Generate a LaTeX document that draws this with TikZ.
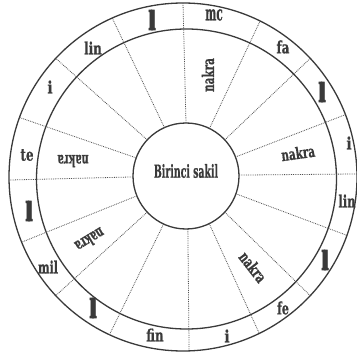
\documentclass[tikz,border=0pt]{standalone}
\usepackage{fontspec}
\setmainfont{Liberation Serif}
\newfontfamily\heavy{DejaVu Serif}[BoldFeatures={FakeBold=0.8}]
\newfontfamily\blockf{DejaVu Serif}[BoldFeatures={FakeBold=3.5}]
\usepackage{graphicx}
\definecolor{ink}{HTML}{3A3A3A}
\definecolor{dots}{HTML}{505050}
\newcommand\sqz[2]{\scalebox{#1}[1]{#2}}
\newcommand\blk{\scalebox{0.5}[1]{\blockf\bfseries\fontsize{26}{26}\selectfont l\kern-0.2em l}}
\begin{document}
\begin{tikzpicture}[x=1pt,y=-1pt,
  ring/.style={draw=ink,line width=1.3pt},
  dl/.style={draw=dots,line width=0.8pt,dash pattern=on 0.8pt off 1pt},
  lab/.style={text=ink,inner sep=0pt,font=\heavy\bfseries\fontsize{17}{17}\selectfont},
  nk/.style={text=ink,inner sep=0pt,font=\heavy\bfseries\fontsize{16}{16}\selectfont}]
\useasboundingbox[fill=white] (0,0) rectangle (356,358);
% circles
\draw[ring] (183,177) circle[radius=174pt];
\draw[ring] (186.5,179) circle[radius=150pt];
\draw[ring] (186,176) circle[radius=53pt];
% radial dotted lines
\foreach \a in {90,63.7,43,21,1,-19.6,-43,-64,-88,-115,-137,-158,-179,160,137,114} {
  \draw[dl] ({186+53*cos(\a)},{176-53*sin(\a)}) -- ({183+174*cos(\a)},{177-174*sin(\a)});
}
% centre
\node[lab,font=\heavy\bfseries\fontsize{18}{18}\selectfont] (c) at (186,171) {\sqz{0.52}{Birinci sakil}};
% inner band
\node[nk,rotate=90] (n1) at (208,75) {\sqz{0.65}{nakra}};
\node[nk,rotate=8] (n2) at (298,153) {\sqz{0.65}{nakra}};
\node[nk,rotate=-52] (n3) at (253,267) {\sqz{0.65}{nakra}};
\node[nk,rotate=180] (n4) at (73,161) {\sqz{0.6}{nakra}};
\node[nk,rotate=-149] (n5) at (90,240) {\sqz{0.6}{nakra}};
% outer band
\node[lab] (o1) at (152,20) {\blk};
\node[lab,font=\heavy\bfseries\fontsize{21}{21}\selectfont] (o2) at (214,15) {\sqz{0.5}{mc}};
\node[lab] (o3) at (283,47) {\sqz{0.7}{fa}};
\node[lab] (o4) at (322,92) {\blk};
\node[lab] (o5) at (349,143) {\sqz{0.8}{i}};
\node[lab] (o6) at (347,201) {\sqz{0.68}{lin}};
\node[lab] (o7) at (325,260) {\blk};
\node[lab] (o8) at (283,308) {\sqz{0.65}{fe}};
\node[lab] (o9) at (227,336) {\sqz{0.8}{i}};
\node[lab] (o10) at (155,335) {\sqz{0.7}{fin}};
\node[lab] (o11) at (93,308) {\blk};
\node[lab] (o12) at (48,267) {\sqz{0.65}{mil}};
\node[lab] (o13) at (29,211) {\blk};
\node[lab] (o14) at (27,155) {\sqz{0.7}{te}};
\node[lab] (o15) at (50,87) {\sqz{0.8}{i}};
\node[lab] (o16) at (93,48) {\sqz{0.7}{lin}};
\end{tikzpicture}
\end{document}
